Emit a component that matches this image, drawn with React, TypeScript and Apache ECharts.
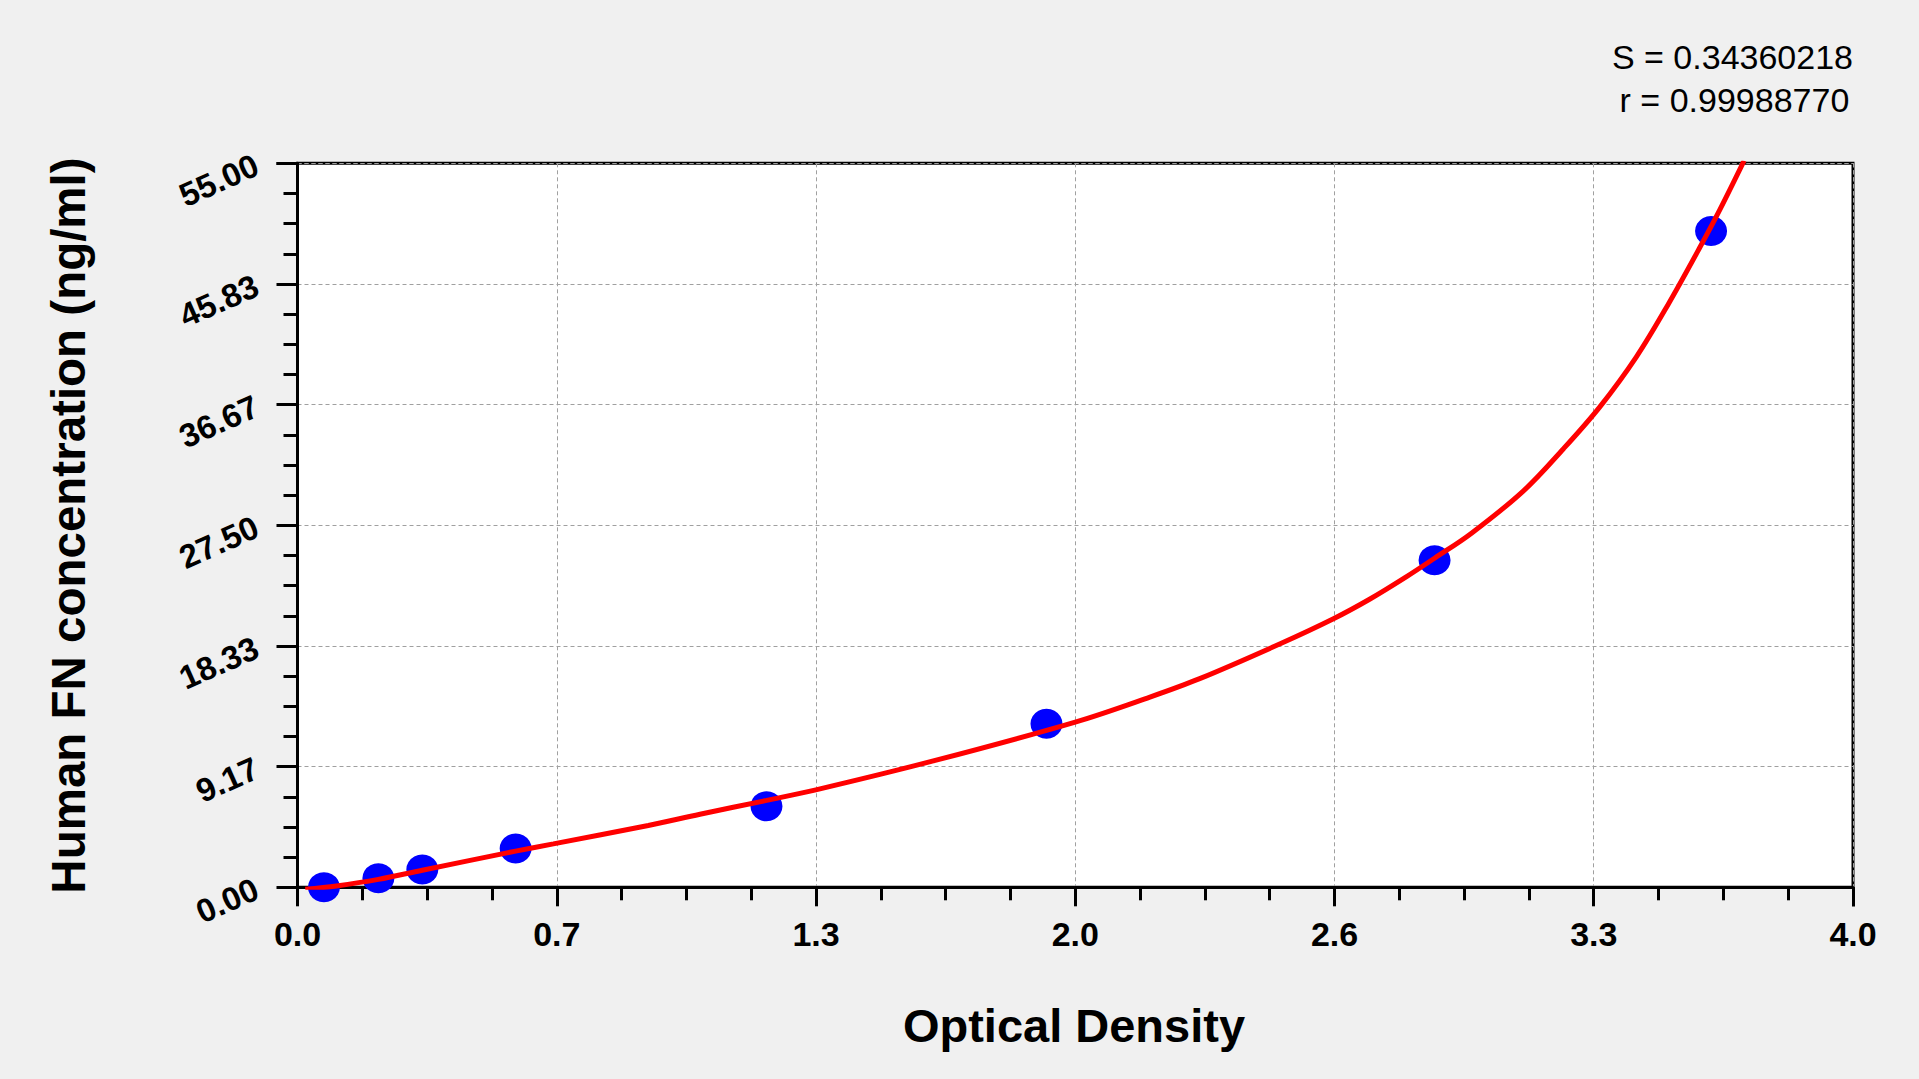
import React, { useEffect, useRef } from "react";
import * as echarts from "echarts";

// Tick labels as printed on the reference
const xTickLabels = ["0.0", "0.7", "1.3", "2.0", "2.6", "3.3", "4.0"];
const yTickLabels = ["0.00", "9.17", "18.33", "27.50", "36.67", "45.83", "55.00"];

// Standard points (Optical Density, concentration ng/ml)
const pointOD = [0.068, 0.208, 0.321, 0.561, 1.206, 1.926, 2.924, 3.635];
const pointConc = [0.0, 0.68, 1.36, 2.95, 6.15, 12.42, 24.85, 49.85];

// Fitted curve
const curveOD = [
  0.02, 0.1, 0.208, 0.321, 0.561, 0.658, 0.902, 1.035, 1.206, 1.333, 1.635, 2.0,
  2.192, 2.32, 2.527, 2.664, 2.758, 2.852, 2.924, 3.019, 3.152, 3.255, 3.349,
  3.443, 3.525, 3.606, 3.658, 3.72,
];
const curveConc = [
  -0.15, 0.1, 0.6, 1.3, 2.75, 3.3, 4.7, 5.55, 6.6, 7.4, 9.6, 12.55, 14.45, 15.85,
  18.5, 20.4, 21.9, 23.6, 25.0, 26.9, 30.1, 33.3, 36.5, 40.3, 44.3, 48.6, 51.5,
  55.2,
];

const statLines = ["S = 0.34360218", "r = 0.99988770"];
const xTitle = "Optical Density";
const yTitle = "Human FN concentration (ng/ml)";

const X_MAX = 4;
const Y_MAX = 55;
const FONT = '"Liberation Sans", Arial, Helvetica, sans-serif';

export default function App() {
  const ref = useRef<HTMLDivElement>(null);

  useEffect(() => {
    if (!ref.current) return;
    const chart = echarts.init(ref.current, null, { renderer: "svg" });
    const xStep = X_MAX / 6;
    const yStep = Y_MAX / 6;

    const option: any = {
      animation: false,
      backgroundColor: "#f0f0f0",
      textStyle: { fontFamily: FONT },
      grid: {
        left: 297.5,
        top: 163.3,
        right: 66,
        bottom: 191.7,
        show: true,
        backgroundColor: "#ffffff",
        borderColor: "#000000",
        borderWidth: 3,
      },
      xAxis: {
        type: "value",
        min: 0,
        max: X_MAX,
        interval: xStep,
        axisLine: { show: true, lineStyle: { color: "#000", width: 3 } },
        axisTick: { show: true, length: 19, lineStyle: { color: "#000", width: 3 } },
        minorTick: { show: true, splitNumber: 4, length: 13, lineStyle: { color: "#000", width: 3 } },
        splitLine: { show: true, lineStyle: { color: "#a0a0a0", width: 1, type: [4, 3] } },
        axisLabel: {
          color: "#000",
          fontFamily: FONT,
          fontSize: 34,
          fontWeight: "bold",
          margin: 30,
          formatter: (v: number) => xTickLabels[Math.round(v / xStep)] ?? "",
        },
      },
      yAxis: {
        type: "value",
        min: 0,
        max: Y_MAX,
        interval: yStep,
        axisLine: { show: true, lineStyle: { color: "#000", width: 3 } },
        axisTick: { show: true, length: 21, lineStyle: { color: "#000", width: 3 } },
        minorTick: { show: true, splitNumber: 4, length: 14, lineStyle: { color: "#000", width: 3 } },
        splitLine: { show: true, lineStyle: { color: "#a0a0a0", width: 1, type: [4, 3] } },
        axisLabel: {
          color: "#000",
          fontFamily: FONT,
          fontSize: 33,
          fontWeight: "bold",
          rotate: 24,
          margin: 41,
          formatter: (v: number) => yTickLabels[Math.round(v / yStep)] ?? "",
        },
      },
      series: [
        {
          type: "scatter",
          data: pointOD.map((x, i) => [x, pointConc[i]]),
          symbol: "circle",
          symbolSize: [32, 30],
          itemStyle: { color: "#0000ff", opacity: 1 },
          z: 2,
        },
        {
          type: "line",
          data: curveOD.map((x, i) => [x, curveConc[i]]),
          showSymbol: false,
          smooth: 0.35,
          clip: true,
          lineStyle: { color: "#ff0000", width: 5 },
          z: 3,
        },
      ],
      graphic: [
        {
          type: "text",
          x: 1074,
          y: 1025,
          style: {
            text: xTitle,
            font: `bold 47px ${FONT}`,
            fill: "#000",
            textAlign: "center",
            textVerticalAlign: "middle",
          },
        },
        {
          type: "text",
          x: 68.5,
          y: 525.5,
          rotation: Math.PI / 2,
          style: {
            text: yTitle,
            font: `bold 47.5px ${FONT}`,
            fill: "#000",
            textAlign: "center",
            textVerticalAlign: "middle",
          },
        },
        {
          type: "text",
          x: 1853,
          y: 56.7,
          style: {
            text: statLines[0],
            font: `34px ${FONT}`,
            fill: "#000",
            textAlign: "right",
            textVerticalAlign: "middle",
          },
        },
        {
          type: "text",
          x: 1849.3,
          y: 99.7,
          style: {
            text: statLines[1],
            font: `34px ${FONT}`,
            fill: "#000",
            textAlign: "right",
            textVerticalAlign: "middle",
          },
        },
      ],
    };

    chart.setOption(option);
    return () => chart.dispose();
  }, []);

  return (
    <div
      ref={ref}
      style={{ position: "fixed", left: 0, top: 0, width: "1919px", height: "1079px" }}
    />
  );
}
